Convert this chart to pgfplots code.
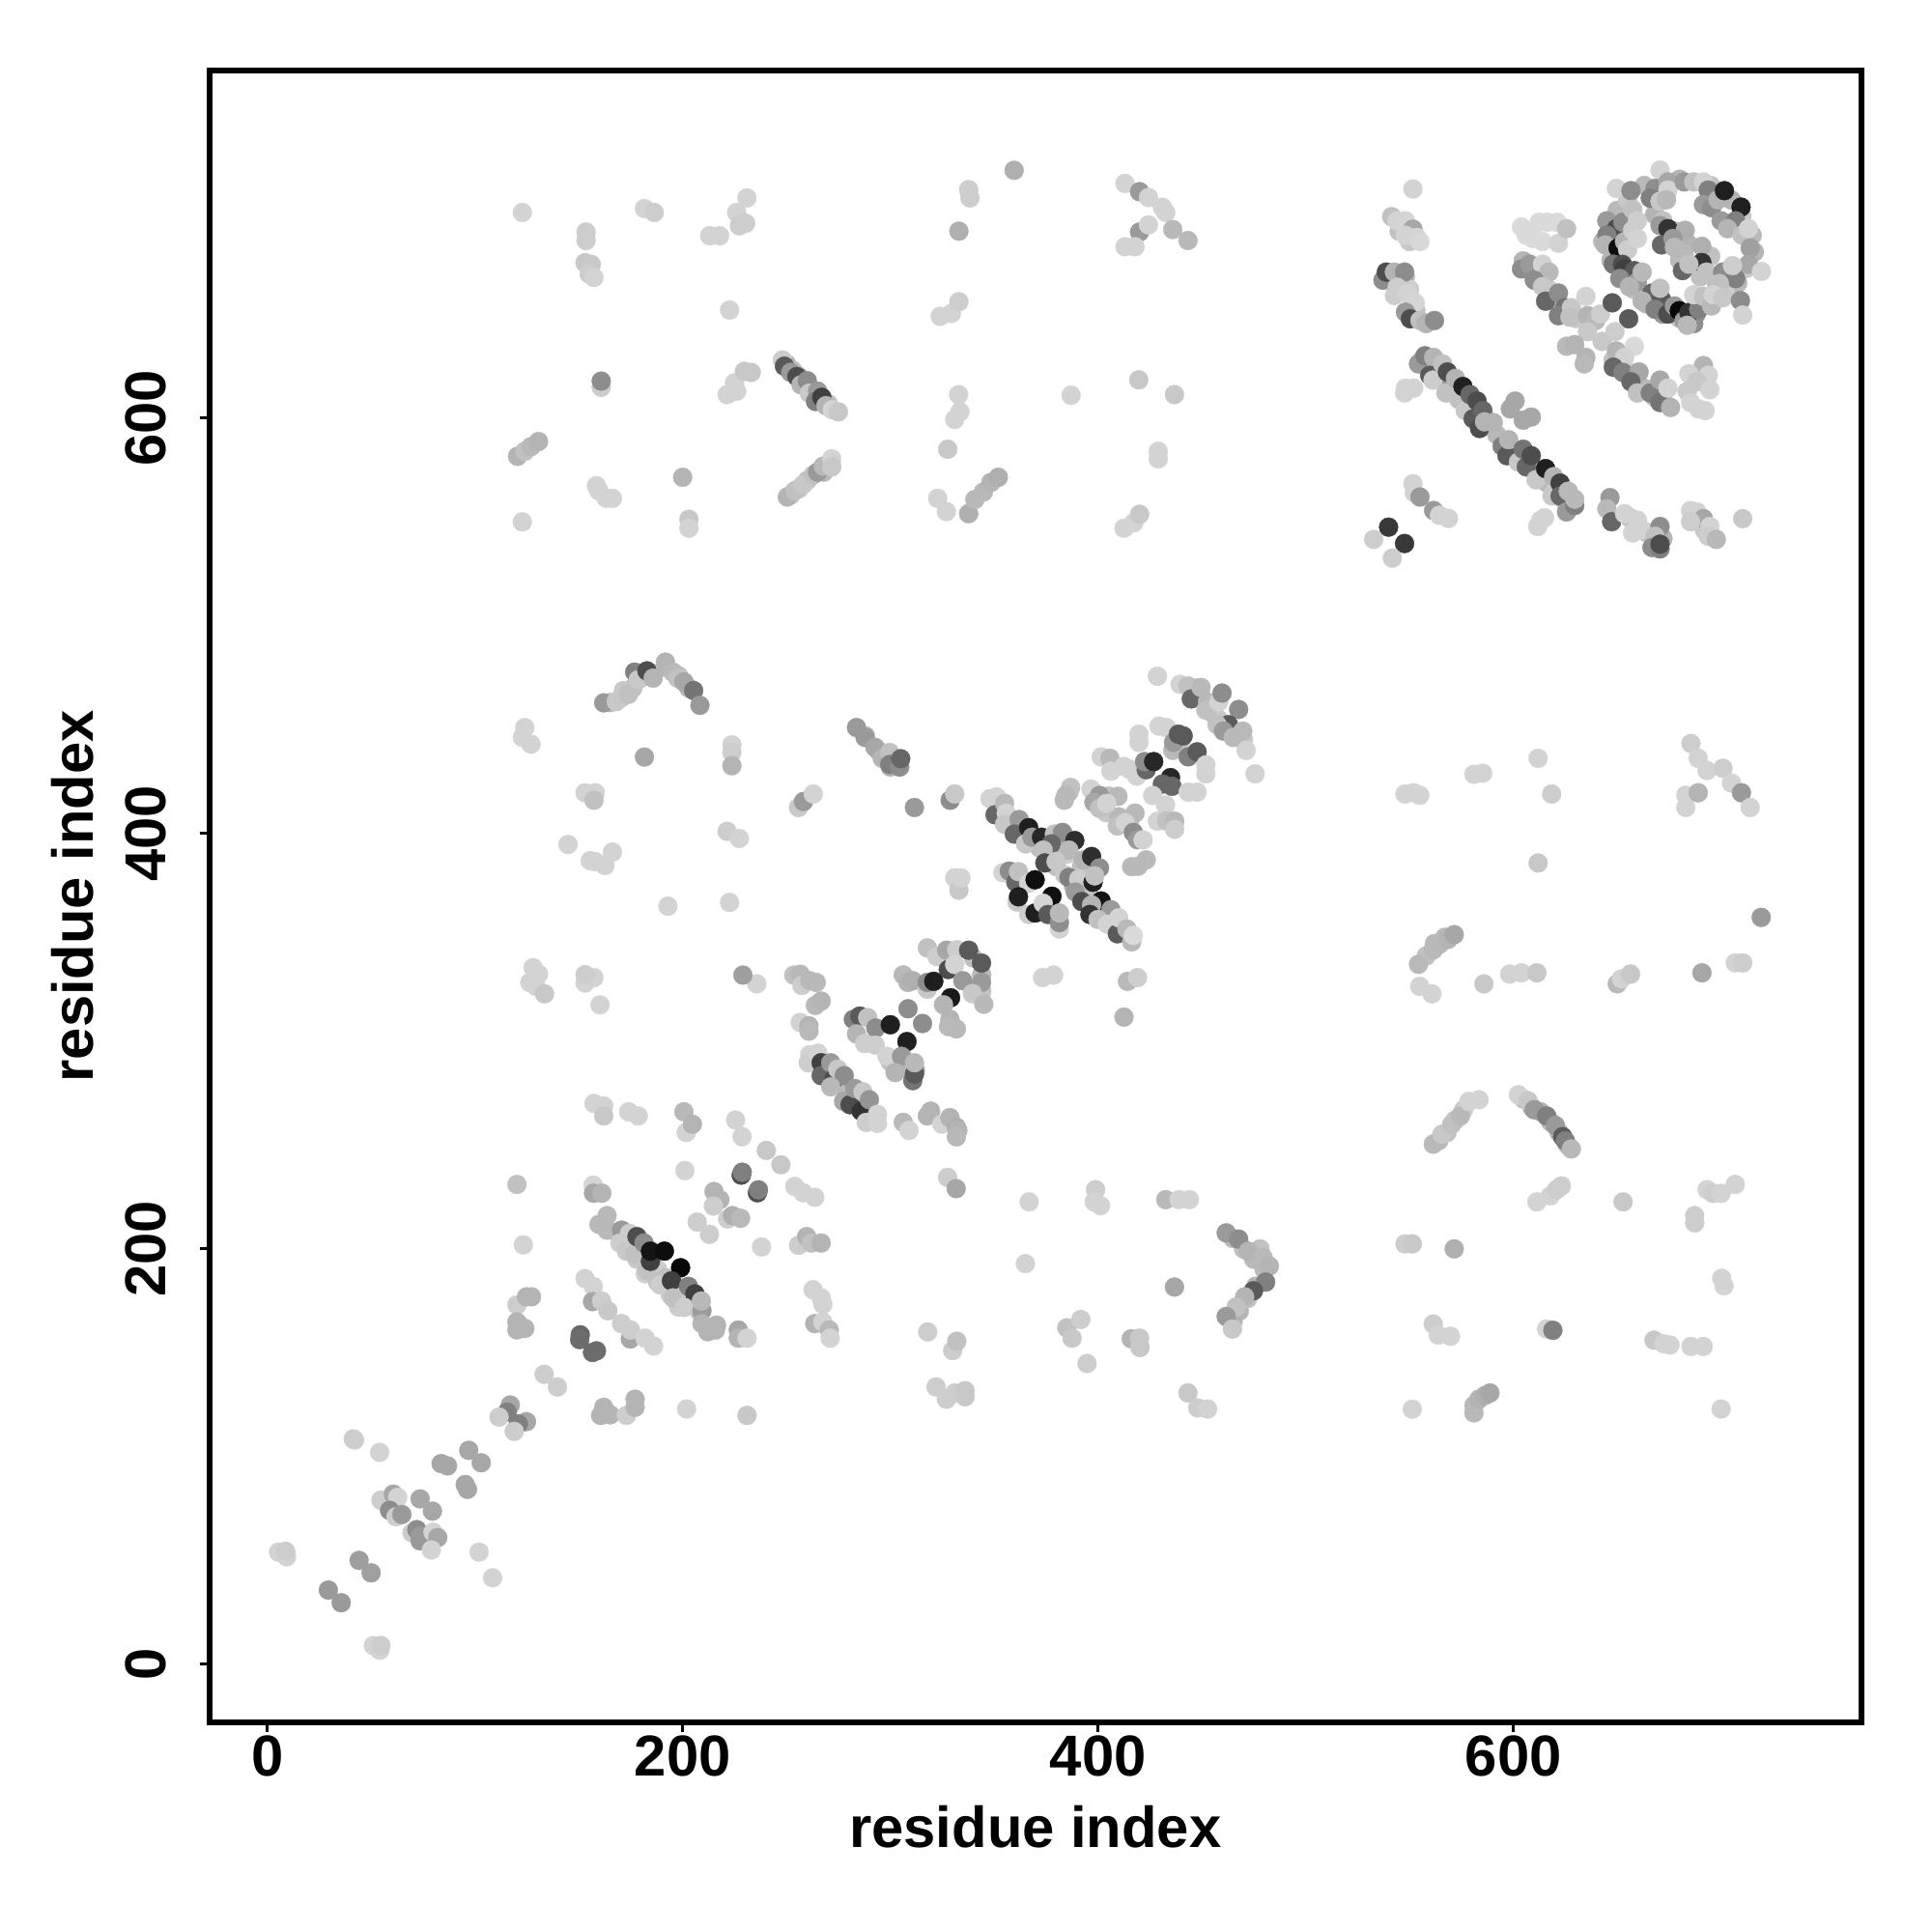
\documentclass[border=0pt]{standalone}
\usepackage{pgfplots}
\pgfplotsset{compat=1.18}
\usepackage{fontspec}
\setmainfont{Liberation Sans}
\begin{document}
\begin{tikzpicture}
\path[use as bounding box] (-2.167cm,-2.17cm) rectangle (17.833cm,17.83cm);
\begin{axis}[at={(0,0)},anchor=south west,scale only axis,width=17.103cm,height=17.103cm,
 xmin=-27.9,xmax=767.6,ymin=-28,ymax=767.5,
 axis line style={line width=1.7pt},
 xtick={0,200,400,600},ytick={0,200,400,600},
 tick style={line width=0.8pt,black},tick align=outside,major tick length=1mm,
 xtick pos=bottom,ytick pos=left,
 /pgf/number format/assume math mode=true,
 ticklabel style={font=\bfseries\fontsize{17}{20}\selectfont},
 yticklabel style={rotate=90,anchor=south,yshift=2.25mm},
 xticklabel style={yshift=0.85mm},
 xlabel={residue index},ylabel={residue index},
 label style={font=\bfseries\fontsize{17}{20}\selectfont},
 xlabel style={at={(axis description cs:0.5,-0.063)},anchor=center},
 ylabel style={at={(axis description cs:-0.083,0.5)},anchor=center,rotate=0},
 colormap={bw}{gray(0cm)=(0); gray(1cm)=(1)},point meta min=0,point meta max=1,
 scatter/use mapped color={draw=mapped color,fill=mapped color},
]
\addplot[scatter,only marks,mark=*,mark size=2.8pt,mark options={line width=0.1pt},scatter src=explicit]
 table[row sep=crcr,x=x,y=y,meta=g]{
x y g\\
650 700 .72\\ 645 695 .6\\ 655 705 .78\\ 663 712 .72\\ 680 715 .7\\ 695 712 .75\\ 705 705 .7\\ 710 697 .78\\ 715 688 .72\\ 716 680 .7\\ 712 672 .78\\ 708 665 .72\\ 702 660 .8\\ 695 655 .7\\ 688 650 .6\\ 680 648 .75\\ 672 650 .6\\ 664 655 .7\\ 658 662 .75\\ 652 668 .6\\ 647 676 .7\\ 643 685 .72\\ 668 698 .7\\ 672 695 .75\\ 678 690 .72\\ 684 684 .7\\ 680 676 .72\\ 690 668 .75\\ 698 664 .72\\ 695 678 .75\\
556 628 .72\\ 560 625 .8\\ 564 622 .75\\ 569 618 .6\\ 572 614 .78\\ 576 610 .72\\ 580 606 .8\\ 584 601 .75\\ 588 596 .7\\ 592 592 .72\\ 596 588 .75\\ 600 584 .78\\ 604 580 .72\\ 608 577 .8\\ 612 573 .75\\ 616 569 .72\\ 620 565 .8\\ 624 561 .72\\ 628 558 .75\\
606 672 .72\\ 610 668 .78\\ 613 666 .75\\ 617 662 .8\\ 620 656 .72\\ 624 651 .75\\ 630 648 .78\\ 648 628 .75\\ 652 626 .72\\ 656 622 .78\\ 660 618 .8\\ 664 614 .72\\ 668 610 .75\\ 672 609 .7\\
352 412 .78\\ 356 408 .72\\ 360 404 .8\\ 364 401 .75\\ 368 396 .78\\ 372 393 .72\\ 376 388 .8\\ 380 384 .75\\ 384 380 .78\\ 388 375 .72\\ 392 372 .8\\ 396 368 .75\\ 400 364 .78\\ 404 360 .72\\ 408 356 .8\\ 412 352 .75\\ 375 392 .78\\ 380 395 .72\\ 385 390 .8\\ 392 384 .75\\
270 288 .72\\ 274 282 .78\\ 278 278 .72\\ 282 274 .75\\ 286 270 .7\\ 290 266 .78\\
168 208 .78\\ 172 205 .72\\ 176 202 .8\\ 180 198 .75\\ 184 194 .78\\ 188 190 .8\\ 192 186 .75\\ 196 182 .78\\ 200 178 .8\\ 204 174 .78\\ 208 170 .75\\ 174 200 .8\\ 178 195 .78\\ 182 188 .8\\ 188 184 .75\\ 194 178 .8\\ 198 172 .8\\
250 626 .7\\ 253 623 .75\\ 256 620 .72\\ 259 617 .75\\ 262 613 .7\\ 266 610 .72\\ 270 607 .75\\ 252 563 .75\\ 256 566 .78\\ 260 570 .75\\ 268 574 .72\\
165 463 .72\\ 170 465 .78\\ 176 470 .75\\ 180 475 .72\\ 186 477 .75\\ 192 480 .72\\ 198 476 .75\\ 203 470 .7\\ 300 432 .7\\ 304 434 .7\\ 288 447 .72\\ 294 440 .75\\
447 470 .75\\ 450 465 .78\\ 455 458 .72\\ 458 455 .78\\ 462 450 .72\\ 466 448 .75\\ 470 445 .78\\ 436 440 .72\\ 440 445 .75\\ 400 415 .72\\ 404 410 .78\\ 410 408 .72\\ 405 418 .75\\ 386 420 .72\\ 415 405 .75\\
548 668 .72\\ 550 662 .8\\ 553 652 .75\\ 545 690 .75\\ 550 685 .78\\ 480 190 .72\\ 478 200 .75\\ 475 195 .72\\ 465 165 .72\\ 468 170 .7\\ 472 176 .75\\ 476 182 .7\\ 465 205 .72\\ 470 200 .75\\
564 252 .72\\ 568 256 .75\\ 572 262 .75\\ 576 267 .8\\ 605 272 .75\\ 609 268 .72\\ 613 266 .7\\ 618 261 .72\\ 622 256 .7\\ 626 250 .75\\ 656 552 .75\\ 660 548 .72\\ 664 545 .75\\ 668 540 .72\\ 672 542 .7\\ 690 551 .75\\ 692 546 .78\\ 344 332 .72\\ 344 324 .75\\ 340 340 .75\\ 312 286 .6\\ 306 288 .72\\ 300 290 .75\\ 562 347 .72\\ 567 350 .72\\ 558 341 .75\\
41.4 108.5 .8\\ 42 108 .8\\ 54.1 102 .82\\ 133.3 139.6 .8\\ 139.7 133.5 .8\\ 117 124.8 .65\\ 115.5 121.4 .5\\ 111.6 119 .8\\ 124.8 116.8 .65\\ 120.9 115.7 .5\\ 118.9 112.1 .8\\
97 103 .65\\ 103 97 .65\\ 83.7 96.6 .65\\ 86.8 95.5 .65\\ 95.3 86.5 .65\\ 96.4 84.2 .65\\ 54.7 79 .8\\ 60.7 81.9 .65\\ 62.8 80.3 .82\\ 73.6 79.6 .65\\ 79.5 73.7 .65\\ 58.9 74.1 .55\\ 62 71 .8\\ 64.8 72.1 .6\\
69.7 63.3 .8\\ 72 64.8 .55\\ 73.6 61.7 .6\\ 73.6 59.4 .6\\ 79.8 63.6 .82\\ 82.1 61 .65\\ 79 55 .82\\ 102 54 .82\\ 108.5 41.6 .82\\ 5.4 54 .82\\ 9.3 51.7 .82\\ 8.8 54.4 .8\\ 44.2 50 .62\\ 50 44 .62\\ 29.4 35.7 .6\\ 35.6 29.6 .6\\ 51.1 9 .82\\ 54.2 6.7 .82\\ 54.7 9 .8\\
120.2 231 .75\\ 156.9 230.7 .83\\ 157.1 226.8 .65\\ 161.1 226.8 .7\\ 163.6 216 .72\\ 159.7 211.8 .72\\ 163.6 209 .72\\ 170.6 209 .6\\ 174.4 207.4 .8\\ 169.8 202.8 .8\\ 172.9 198.9 .78\\ 176.8 197.4 .75\\ 178 205.9 .3\\ 181.4 202.8 .55\\ 183 189.6 .75\\ 184.5 194 .25\\ 184.5 198.9 .08\\ 191.2 198.9 .05\\ 189.2 182.6 .8\\ 197 182.6 .8\\ 199 190.9 .03\\ 194.6 184.6 .25\\ 202.8 181.9 .5\\ 195.4 176.4 .75\\ 205.9 178.3 .25\\ 200.8 171.8 .8\\ 209.3 170.2 .6\\ 209 174.9 .72\\ 209.3 164 .7\\ 216.3 163.3 .7\\ 212.1 160.1 .7\\ 215.8 160.9 .7\\
123.3 201.9 .82\\ 153 185.7 .82\\ 157 181.9 .82\\ 156.6 174.6 .65\\ 161 174.9 .8\\ 164 170.2 .78\\ 170.6 164 .8\\ 174.8 156.6 .65\\ 174.9 160.9 .8\\ 181.9 157 .82\\ 186 153.2 .82\\ 120.2 173 .8\\ 124.8 176.9 .7\\ 127.2 176.9 .7\\ 120.2 164.8 .7\\ 124 161.7 .7\\ 120.2 161 .7\\ 150.7 158.6 .4\\ 150.4 156.3 .42\\ 156.6 150.1 .42\\ 158.5 150.9 .42\\
162 123.7 .7\\ 160.5 119.8 .7\\ 165.1 120.1 .7\\ 172.9 119.8 .8\\ 177.1 127.6 .7\\ 177.1 123.7 .7\\ 201.9 122.9 .82\\ 231 119.8 .78\\ 201.1 237.7 .82\\ 228.2 235.5 .3\\ 228.7 236.9 .5\\ 236 227 .3\\ 236.5 228.4 .5\\ 240.3 247.4 .78\\ 247.3 240.5 .78\\ 254 230 .82\\ 258 227 .82\\ 263.6 224.8 .82\\ 215.1 227.6 .7\\ 217.9 223.7 .7\\ 214.8 220.6 .8\\ 221.7 214.4 .8\\ 224 216 .68\\ 227.9 214.7 .72\\ 207 212.9 .8\\ 212.9 207 .8\\ 238 200.9 .82\\ 255.8 201.7 .8\\ 259.7 205.9 .7\\ 262 202.8 .75\\ 266.7 202.8 .7\\ 262.8 180.3 .82\\ 266.7 176.4 .82\\ 267.5 173.3 .82\\ 263.6 164 .7\\ 267.5 164.8 .82\\ 270.6 160.9 .72\\ 271 157 .82\\ 226.8 160.9 .65\\ 226.8 157 .7\\ 231 157 .82\\
225.5 262 .82\\ 228.6 254 .82\\ 200.6 266 .72\\ 201.7 256 .82\\ 204.7 260 .7\\ 157.3 270 .82\\ 162 268.8 .82\\ 162 264 .78\\ 174 266 .82\\ 178.6 264 .82\\
122.8 699 .82\\ 153.5 689.6 .8\\ 153.5 685.5 .8\\ 153 674.8 .78\\ 156 674 .78\\ 155 669.4 .8\\ 157.3 667.7 .82\\ 181.6 700.9 .82\\ 186.3 699 .8\\ 213 687.8 .82\\ 217.8 687.8 .82\\ 226 699 .82\\ 230.9 706 .82\\ 227.3 692.6 .8\\ 230.3 693.8 .8\\ 222.6 652 .82\\ 160.8 614.8 .8\\ 160.8 617.8 .55\\ 221.4 611.3 .82\\ 226 613 .82\\ 225 617 .82\\ 229.7 622.5 .78\\ 233 622 .78\\
248 628 .8\\ 249 625 .35\\ 252 622 .6\\ 255 620 .3\\ 257 616 .7\\ 260 618 .55\\ 261 612 .78\\ 265 613 .6\\ 264 608 .5\\ 267 610 .25\\ 269 606 .7\\ 272 604 .82\\ 275 603 .78\\ 250.4 562 .7\\ 254 565 .75\\ 258 568 .78\\ 263 572.7 .75\\ 265 574 .6\\ 267.7 576.9 .72\\ 271.8 580.4 .82\\ 271.8 576.5 .78\\
120.5 581.6 .7\\ 124 584 .75\\ 127 586.3 .72\\ 130.6 588.7 .7\\ 122.8 550 .82\\ 158.5 567.4 .82\\ 159.6 565 .82\\ 163.2 561.4 .82\\ 166.2 561.4 .82\\ 200 571.5 .7\\ 203 551.3 .78\\ 203 547 .82\\
333 690 .68\\ 337.7 710 .8\\ 338.3 706 .8\\ 359.6 719.3 .68\\ 324 649 .82\\ 329.4 650.4 .82\\ 333 656 .8\\ 332.9 611.3 .82\\ 333.5 603 .82\\ 331 599.4 .82\\ 327.6 585 .78\\ 322.8 561.4 .82\\ 327 555 .82\\ 337.7 554 .68\\ 340.7 560.8 .72\\ 344.8 564.4 .72\\ 348.4 569 .7\\ 352 571.5 .68\\ 387 611 .82\\ 419.6 618.4 .78\\ 436.8 611.3 .78\\ 429 584 .82\\ 429 580.4 .82\\
413 713 .82\\ 420 709 .6\\ 424.3 706.2 .82\\ 431 701.5 .82\\ 432.6 699 .82\\ 420 689.6 .6\\ 413 682.5 .82\\ 417.8 682.5 .82\\ 424.3 693 .82\\ 436 690.8 .72\\ 443.3 685.5 .72\\ 412.5 547 .82\\ 417.2 549.6 .82\\ 420 553.7 .78\\
551.6 710.3 .82\\ 541.4 697 .75\\ 544 695 .82\\ 548 695 .83\\ 551.6 691 .65\\ 548 688 .82\\ 553.5 687 .83\\ 555 685 .84\\
537.2 666.4 .55\\ 538.8 670.3 .3\\ 542.7 670.3 .7\\ 547.6 670.3 .55\\ 544 663 .8\\ 542.7 659 .8\\ 548.9 660 .82\\ 552.7 655.5 .83\\ 548 651 .6\\ 550.4 647.8 .3\\ 555 647 .75\\ 558 645.5 .7\\ 562 647 .55\\
539.9 547.5 .22\\ 547.6 539.6 .22\\ 532.7 541.6 .8\\ 541.7 532.6 .8\\ 551.6 568.4 .82\\ 552.3 564 .82\\ 555 562 .6\\ 561.6 555.5 .6\\ 564.4 553.2 .82\\ 568.7 551.7 .82\\ 613.2 550.9 .82\\ 615 552 .82\\ 611.7 547.8 .82\\ 548 614.4 .82\\ 552 614.4 .82\\ 547.6 612.1 .82\\
554.3 626.1 .6\\ 557.4 630 .5\\ 561.6 629.2 .7\\ 559.7 620.6 .35\\ 561.3 618.3 .8\\ 565.9 626.1 .75\\ 567.5 612.1 .75\\ 568.2 622.2 .3\\ 572.1 619.1 .7\\ 573.7 609 .75\\ 575.7 615.2 .13\\ 576.8 603.6 .78\\ 579.1 611.3 .4\\ 580.6 599.7 .35\\ 582.5 608.2 .3\\ 583.7 595 .3\\ 585.3 603.6 .4\\ 586.1 598.2 .7\\ 590.3 597.9 .7\\
594.6 586.5 .5\\ 596.9 581.9 .35\\ 597.7 589.6 .7\\ 602.4 578.8 .78\\ 604.7 585 .45\\ 606.2 576.5 .4\\ 608.6 581.9 .3\\ 610.9 570.3 .78\\ 615.5 575.7 .12\\ 618.6 562.5 .78\\ 619.4 571.8 .7\\ 622.5 568.7 .25\\ 622.5 562.5 .4\\ 625.6 554.8 .6\\ 626.4 564.8 .72\\ 629.5 557.9 .5\\ 629.5 561 .72\\
600.8 608.2 .65\\ 598.5 604.4 .65\\ 608.6 600.5 .65\\ 604.7 599 .65\\
646.5 561.7 .6\\ 645 556.3 .72\\ 647.3 550.1 .4\\ 653.5 554 .82\\ 659.7 550.9 .82\\ 662 546.2 .82\\ 657.4 544.7 .82\\ 670.6 547.8 .55\\ 668.2 543.1 .75\\ 666.7 537.7 .55\\ 670.6 537 .5\\ 670.6 539.3 .3\\ 685.3 555.5 .82\\ 688.4 554.8 .82\\ 691.5 551.6 .65\\ 685.3 550.1 .8\\ 694.6 547.8 .82\\ 693.8 543.1 .8\\ 697.7 541.6 .72\\ 710.4 551.6 .78\\
604.7 675.7 .7\\ 603.9 671.8 .55\\ 607.8 674.1 .6\\ 614 674.1 .82\\ 617.1 670.3 .72\\ 610.1 666.4 .55\\ 614 663.3 .78\\ 615.5 656.3 .4\\ 621.7 660.2 .55\\ 624.8 653.2 .45\\ 621.7 649.3 .5\\ 627.9 653.2 .78\\ 627.2 648.6 .75\\ 634.9 658.6 .82\\ 635.7 649.3 .7\\ 639.6 647 .72\\ 641.9 650.1 .8\\ 647.6 655.5 .35\\ 655.5 647.8 .35\\ 635.7 641.6 .78\\ 625.6 634.6 .72\\ 629.5 635.4 .7\\ 634.9 629.2 .7\\ 634.1 626.1 .72\\ 642.7 636.9 .78\\ 648.9 641.6 .8\\ 649.6 632.3 .7\\ 658.2 634.6 .85\\ 653.5 629.2 .82\\ 648.1 624.5 .4\\ 652.7 622 .5\\ 660.5 622.2 .65\\ 656.6 617.5 .4\\ 659.7 612.1 .75\\ 665.9 612.1 .5\\ 670.6 618.3 .65\\ 670.6 607.5 .45\\ 674.4 614.4 .82\\ 675.7 605.1 .7\\
691.5 625.3 .7\\ 684.5 621.4 .82\\ 693.8 620.6 .82\\ 688.4 617.5 .78\\ 694.6 613.7 .82\\ 683.7 612.9 .78\\ 685.3 607.5 .82\\ 689.2 604.4 .82\\ 692.3 603.6 .82\\
603.9 692 .85\\ 606.2 688 .85\\ 612.4 694.3 .85\\ 616.3 694.3 .85\\ 621 694.3 .85\\ 614 685 .85\\ 609.3 686.5 .85\\ 621.7 684.2 .82\\ 625.6 691.2 .75\\
649.6 710.6 .82\\ 656.6 709.5 .55\\ 670.6 719.4 .82\\ 668.2 710.6 .55\\ 674.4 713.7 .65\\ 674.4 709.8 .82\\ 665.9 705.9 .5\\ 670.6 704.4 .78\\ 673.7 705.1 .72\\ 682.2 713.7 .6\\ 686.8 713.7 .75\\ 691.5 713.7 .82\\ 693.8 709.8 .5\\ 691.5 702.8 .6\\ 695.4 701.3 .55\\ 698.5 705.1 .7\\ 701.6 709.5 .12\\ 709.6 701.6 .12\\
649.6 691.2 .3\\ 645 688.1 .5\\ 644.2 683.4 .7\\ 652.7 694.3 .55\\ 650.4 681.9 .05\\ 653.5 685 .7\\ 655 681.1 .8\\ 657.4 700.5 .75\\ 659.7 695 .8\\ 657.4 690.4 .8\\ 659.7 686.5 .82\\
670.6 692.7 .6\\ 674.4 691.2 .2\\ 671.3 683.4 .4\\ 682.7 690.4 .68\\ 676.8 686.5 .6\\ 677.5 682.2 .72\\ 690.7 682.7 .68\\ 700 695 .6\\ 707 695 .5\\ 703.1 691.2 .7\\ 710.1 688.1 .75\\ 713.2 691.2 .82\\ 714 681.9 .62\\
681.4 671 .4\\ 682.2 678.8 .72\\ 690.7 674.9 .2\\ 684.5 674.1 .75\\ 693 670.3 .75\\ 713.2 674.1 .65\\ 700.8 670.3 .55\\ 707 667.2 .5\\ 705.5 673.4 .8\\ 699.2 664.8 .75\\ 719.4 670.6 .82\\
648.1 674.1 .45\\ 652.5 674 .3\\ 653.5 671.8 .25\\ 658.2 671 .35\\ 651.2 667.2 .55\\ 659.7 665.6 .6\\ 662 670.3 .72\\ 655.8 663.3 .7\\ 666.7 660.2 .4\\ 671.3 657.1 .35\\ 670.6 662.5 .75\\ 662 656.3 .7\\ 668.2 652.4 .5\\ 674.4 650.1 .3\\ 677.5 654 .6\\ 679.9 651.7 .03\\ 682.2 647 .6\\ 686.8 645.5 .55\\ 684.5 650.9 .2\\ 683.7 644.7 .72\\ 689.2 652.4 .5\\ 686.8 659.4 .82\\ 691.5 658.6 .75\\ 695.4 654 .72\\ 696.2 659.4 .82\\ 700.8 657.9 .78\\ 709.3 656.6 .55\\ 710.4 649.6 .82\\
428.6 475.7 .82\\ 439.5 471.8 .82\\ 443.4 471 .75\\ 444.9 464.8 .4\\ 449.6 470.3 .72\\ 452.7 463.3 .72\\ 451.9 459.4 .75\\ 458.1 463.3 .82\\ 459.7 467.6 .55\\ 467.7 459.7 .55\\ 462.8 452.4 .35\\ 457.3 452.4 .75\\ 460.4 449.3 .6\\ 465.1 446.2 .72\\ 469.7 449.3 .72\\ 471.3 440 .82\\ 475.6 428.7 .82\\
429.4 451.7 .82\\ 433 451 .82\\ 419.7 447.8 .82\\ 419.7 443.9 .82\\ 436.4 443.9 .6\\ 438.7 447.8 .35\\ 441 447 .35\\ 443.4 436.9 .5\\ 447.7 439.3 .35\\ 451.9 433 .82\\ 451.9 428.7 .82\\
401.5 436.9 .82\\ 405.7 436.2 .72\\ 406.2 430 .82\\ 412.4 432.3 .82\\ 415 431 .82\\ 418.6 427.6 .82\\ 423.2 430.7 .4\\ 422.4 434.6 .55\\ 426.8 434.6 .15\\ 434.9 426.9 .15\\ 431 423.8 .4\\ 435.6 422.7 .4\\ 443.4 419.9 .82\\ 447.7 419.9 .82\\ 426.3 418.3 .82\\ 432.5 413.7 .82\\ 428.6 405.9 .82\\ 433 406 .75\\ 436.9 405.9 .72\\ 436.9 402 .8\\
386.8 422.2 .75\\ 384.5 418.3 .72\\ 383.7 416 .72\\ 396.6 421.4 .82\\ 400.7 418.3 .6\\ 398 415 .65\\ 409.6 417.9 .72\\ 400.7 412.1 .75\\ 404.2 414.5 .82\\ 417.8 409.8 .72\\ 409.3 403.6 .75\\ 413.1 405.2 .82\\ 417 400.5 .55\\ 419 397 .6\\ 421.7 396.9 .82\\ 416.2 384 .72\\ 419.3 384.2 .72\\ 423.2 387.3 .72\\
348 416.8 .82\\ 351.1 417.6 .82\\ 350.4 409 .4\\ 355 414.5 .72\\ 355.8 409.8 .82\\ 355 404.4 .78\\ 362 406.7 .6\\ 359.7 399.7 .4\\ 366.6 402.8 .12\\ 365.1 395 .78\\ 368.2 398.2 .6\\ 372.8 398.2 .15\\ 379 399.7 .75\\ 382.9 400.5 .55\\ 377.5 395 .4\\ 373.6 392 .75\\ 388.8 396.6 .18\\ 386 392 .72\\ 374.4 385.8 .3\\ 379.8 386.5 .78\\ 393 387.3 .7\\ 396.9 388.9 .18\\ 400.7 383.4 .55\\ 386 378.8 .5\\ 390.7 378 .8\\ 397.6 376.5 .12\\ 398.4 379.6 .75\\ 389.1 371.8 .6\\ 392.2 367.2 .3\\ 401.5 367.5 .08\\ 396.9 365.6 .7\\ 396.1 361 .2\\ 406.2 363.3 .6\\ 400 358.6 .75\\ 404.6 356.3 .82\\ 409.3 351.7 .35\\ 410 359.4 .82\\ 413.9 354 .72\\ 416.2 347.8 .72\\ 417 350.9 .85\\
354.2 381.1 .82\\ 357.3 381.9 .55\\ 360.4 376.5 .4\\ 361.7 381.6 .75\\ 366.6 376 .82\\ 369.7 377.7 .06\\ 361 367 .78\\ 361.7 369.5 .12\\ 377.8 369.8 .06\\ 366.6 361 .8\\ 369.7 361.7 .12\\ 373.6 366.4 .82\\ 375.9 361 .35\\ 381.4 354 .82\\ 381.4 357.1 .55\\ 381.4 361.7 .72\\
235.7 327.6 .82\\ 229 331.8 .62\\ 253.5 331.8 .75\\ 256.6 332.2 .72\\ 257.4 326.8 .8\\ 261.2 329.1 .72\\ 264.3 328.3 .72\\ 263.9 317.2 .72\\ 266.7 319.3 .7\\ 256.6 309 .82\\ 260.8 307.4 .7\\ 260.8 304.8 .72\\
261.2 293.5 .82\\ 260.5 289.6 .8\\ 265.1 294.2 .82\\ 266.7 289.6 .25\\ 266.7 283.4 .4\\ 271.3 289.6 .6\\ 272.9 281.8 .3\\ 274.7 286.5 .78\\ 277.8 283.4 .55\\ 271.3 278 .72\\ 277.5 271 .65\\ 280.6 269.4 .3\\ 282.9 277.2 .6\\ 286.8 275.6 .78\\ 286 266.3 .2\\ 289.9 271.8 .58\\ 288.4 260.9 .8\\ 293.8 264.8 .82\\ 293.8 260.4 .82\\
306.2 260.9 .72\\ 309 257 .82\\ 317.8 264 .7\\ 319.4 266.3 .7\\ 324.8 260.1 .82\\ 328.7 263.2 .7\\ 331.8 258.6 .68\\ 332.5 257 .7\\ 331.8 253.9 .72\\
282.2 310.5 .5\\ 285.3 312.1 .35\\ 289.1 311.3 .75\\ 283.7 303.5 .7\\ 293 306.3 .55\\ 287.6 298.9 .8\\ 292.7 298.1 .8\\ 300 307.9 .12\\ 308 299.8 .12\\ 308.5 315.6 .55\\ 315.5 308.5 .55\\ 298.4 292.7 .82\\ 305.4 292.7 .6\\ 302.3 284.9 .7\\ 310.8 281 .45\\ 311.6 284.2 .35\\ 311.6 289.6 .72\\
317.8 344.9 .75\\ 322.5 340.7 .8\\ 327.1 343.8 .65\\ 332 344 .8\\ 327.9 334.5 .3\\ 331 336.9 .82\\ 337.7 343.8 .35\\ 343.9 337.6 .35\\ 334.9 329.1 .6\\ 343.9 328.3 .6\\ 339.5 322.9 .78\\ 345 317.8 .72\\ 306.2 331.9 .72\\ 308.5 328.3 .7\\ 310.8 329.1 .68\\ 317.8 325 .78\\ 317.8 328.3 .55\\ 320.9 328.8 .12\\ 329 320.9 .1\\ 325.6 317.5 .7\\ 328.7 310.5 .7\\ 328 307 .72\\ 331.8 305.9 .72\\
144.8 394.7 .82\\ 124 451 .82\\ 122.8 446.3 .82\\ 127 443 .82\\ 153 419.6 .82\\ 157.9 419.6 .82\\ 157.3 416 .75\\ 157.9 386.4 .82\\ 155.5 386.9 .82\\ 162.6 384.6 .82\\ 166.2 391 .82\\ 192.9 365 .82\\ 222.6 366.8 .82\\ 221.4 401 .8\\ 227.3 397.6 .82\\ 223.7 442.7 .82\\ 223.7 439 .8\\ 223.7 432.6 .7\\ 181.6 436.8 .65\\
162 462.9 .6\\ 168 463.5 .78\\ 171.5 468.8 .78\\ 173.9 467 .75\\ 176.9 477.7 .5\\ 178.6 474 .78\\ 182.8 478.3 .3\\ 185.8 474.8 .7\\ 191.7 482.5 .7\\ 195.3 477.7 .72\\ 197.6 474.8 .75\\ 200.6 473 .65\\ 205.3 468.8 .45\\ 208.3 461.7 .6\\
255.8 412.5 .78\\ 258.2 415.4 .6\\ 262.9 419 .82\\ 283.7 451 .6\\ 287.8 446.3 .6\\ 292.6 441.5 .65\\ 296.1 436.2 .7\\ 299.7 439 .75\\ 299.7 433.2 .5\\ 304.5 432 .55\\ 305 436 .4\\ 311.6 412.5 .6\\ 328.8 416 .55\\ 331 419 .78\\ 331 378.6 .82\\ 333 372.7 .78\\ 334 378.6 .82\\
365 192.9 .82\\ 366.8 222.6 .82\\ 327.6 234.4 .8\\ 331.7 229 .65\\ 318 160 .8\\ 330 151 .8\\ 332 155.5 .75\\ 322 133.5 .8\\ 327 127.6 .8\\ 331 130.6 .8\\ 336 128.8 .78\\ 336 131.7 .78\\ 385 162 .75\\ 387.5 157 .78\\ 391.7 166 .8\\ 394.7 144.8 .8\\ 398.8 228.5 .8\\ 398.2 222.6 .82\\ 401.2 220.8 .82\\ 432.6 223.7 .72\\ 439 223.7 .82\\ 444 223.7 .82\\ 416 156.7 .7\\ 420.2 152.5 .78\\ 420 157 .78\\ 436.8 181.6 .65\\ 443.3 130.6 .78\\ 448 123.4 .8\\ 452.8 122.9 .82\\ 414.2 328.8 .72\\ 419 330.6 .8\\ 412.5 311.6 .7\\ 373.3 330.6 .82\\ 378.6 331.8 .82\\
551.3 122.8 .82\\ 561.4 163.8 .8\\ 563.8 158.5 .82\\ 569.7 157.9 .82\\ 571.5 200 .68\\ 547.8 202.4 .8\\ 551.3 202.4 .78\\ 581 121 .72\\ 581 124.6 .72\\ 583.4 127.6 .7\\ 586.4 129.4 .68\\ 588.7 130.6 .65\\ 616 161.4 .82\\ 619 160.8 .5\\ 611.3 222.6 .82\\ 617.8 225.5 .82\\ 620.8 228.5 .8\\ 623.1 230.3 .8\\ 652.8 222.6 .78\\ 667.7 156 .78\\ 672.4 154.3 .82\\ 675.4 153.7 .82\\ 685.5 153 .82\\ 691.4 153 .82\\ 700 122.9 .82\\ 700.3 185.8 .82\\ 701.4 182.2 .82\\ 687.3 216 .8\\ 687.3 212.5 .8\\ 693.2 228.5 .82\\ 696.1 226.7 .8\\ 700 226.7 .82\\ 706.8 231 .82\\
611.9 385.8 .78\\ 611.9 436.2 .82\\ 618.4 419 .8\\ 547.8 419 .82\\ 552 419.6 .82\\ 554.9 418.4 .82\\ 581 428.5 .82\\ 585.2 429 .82\\ 683 418.4 .82\\ 683 412.5 .82\\ 685.5 443.3 .8\\ 689 436.2 .82\\ 693.2 430.3 .82\\ 700.9 431.4 .8\\ 705 424.3 .82\\ 709.8 419.6 .6\\ 714 412.5 .82\\ 689 419.6 .7\\
554.3 337 .72\\ 561.4 344 .72\\ 564.4 346.6 .72\\ 568.5 349 .7\\ 571.5 351.3 .65\\ 554.9 326.4 .82\\ 560.8 322.8 .82\\ 585.8 327.6 .78\\ 598.2 332.3 .82\\ 604 332.9 .82\\ 611.3 332.9 .78\\ 650 327.6 .72\\ 652 330 .82\\ 656.4 332.3 .78\\ 690.8 332.9 .65\\ 706.8 337.7 .82\\ 710.4 337.7 .8\\ 719.3 359.6 .6\\
561.4 250.4 .72\\ 565.6 255.2 .78\\ 570.3 259.9 .75\\ 574.5 264 .72\\ 578.6 271 .82\\ 583.4 271.8 .82\\ 602.4 274.2 .82\\ 607.1 271.2 .78\\ 610 267 .6\\ 616 264 .5\\ 620.2 259.4 .6\\ 623.7 254 .35\\ 625 252 .5\\ 627.9 248.1 .72\\
461.7 207.7 .6\\ 467.7 204.7 .55\\ 472.4 198.8 .7\\ 479.5 195.8 .72\\ 482.5 191.7 .7\\ 480.7 184 .5\\ 474.8 179.8 .35\\ 470.6 176.9 .7\\ 466.5 172 .75\\ 461.7 167.4 .6\\ 464.7 161.4 .78\\
153 328 .82\\ 157.3 330.6 .82\\ 153 332 .8\\ 160.2 317.5 .82\\ 128 335.4 .82\\ 130.6 332.3 .82\\ 126.4 328.2 .82\\ 129.4 326.4 .82\\ 133.5 322.8 .78\\
};
\end{axis}
\end{tikzpicture}
\end{document}
